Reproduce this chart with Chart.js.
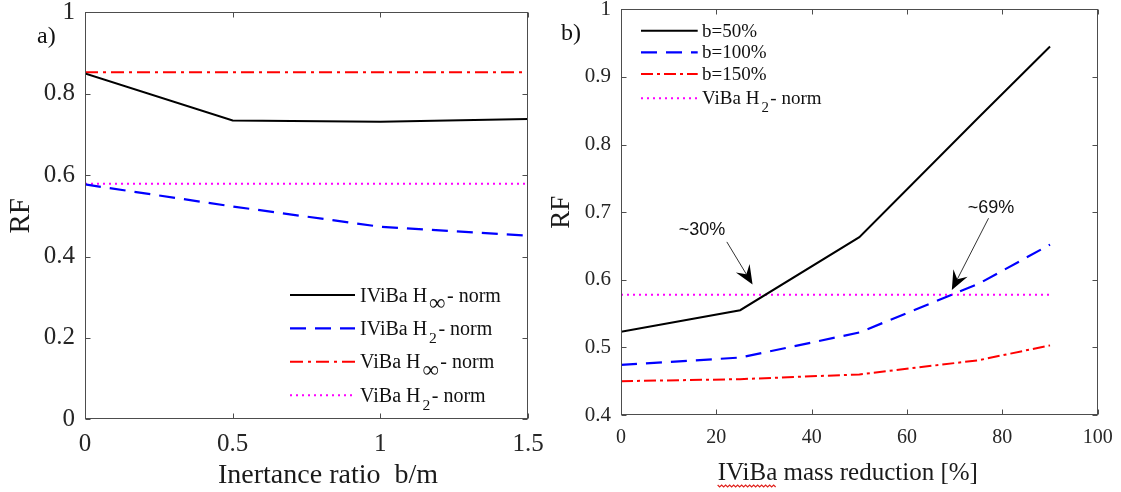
<!DOCTYPE html>
<html>
<head>
<meta charset="utf-8">
<script src="https://cdn.jsdelivr.net/npm/chart.js@4.4.1/dist/chart.umd.min.js"></script>
<style>
  html, body { margin: 0; padding: 0; background: #fff; }
  #wrap { position: relative; width: 1121px; height: 492px; overflow: hidden; }
  .panel { position: absolute; top: 0; }
  #pa { left: 0; }
  #pb { left: 540px; }
</style>
</head>
<body>
<div id="wrap">
  <div class="panel" id="pa"><canvas id="chartA" width="545" height="492"></canvas></div>
  <div class="panel" id="pb"><canvas id="chartB" width="581" height="492"></canvas></div>
</div>
<script>
const serif = "'Liberation Serif', 'Times New Roman', serif";
const sans = "'Liberation Sans', Arial, sans-serif";

// panel a) - RF against inertance ratio
const ratioA = [0, 0.5, 1, 1.5];
const ivibaHinf = [0.850, 0.734, 0.731, 0.738];
const ivibaH2 = [0.577, 0.523, 0.473, 0.451];
const vibaHinf = [0.853, 0.853, 0.853, 0.853];
const vibaH2a = [0.579, 0.579, 0.579, 0.579];
const xTicksA = [0, 0.5, 1, 1.5];
const yTicksA = [0, 0.2, 0.4, 0.6, 0.8, 1];

// panel b) - RF against mass reduction
const massRed = [0, 25, 50, 75, 90];
const b50 = [0.523, 0.555, 0.663, 0.840, 0.945];
const b100 = [0.474, 0.485, 0.522, 0.594, 0.652];
const b150 = [0.450, 0.453, 0.460, 0.481, 0.503];
const vibaH2b = [0.578, 0.578, 0.578, 0.578, 0.578];
const xTicksB = [0, 20, 40, 60, 80, 100];
const yTicksB = [0.4, 0.5, 0.6, 0.7, 0.8, 0.9, 1];

const pts = (xs, ys) => xs.map((v, i) => ({x: v, y: ys[i]}));

function line(label, xs, ys, color, dash, w) {
  return { label, data: pts(xs, ys), borderColor: color, borderDash: dash,
    borderWidth: w, pointRadius: 0, tension: 0, fill: false };
}

// text with H_{2} style subscripts
function richText(ctx, str, x, y, size) {
  const parts = str.split(/_\{|\}/);
  let cx = x;
  parts.forEach((p, i) => {
    const sub = i % 2 === 1;
    const fs = sub ? (p === '∞' ? size * 1.15 : size * 0.78) : size;
    ctx.font = fs + 'px ' + serif;
    ctx.fillText(p, cx, sub ? y + size * 0.42 : y);
    cx += ctx.measureText(p).width + (sub ? 1.5 : 2);
  });
}

function arrow(ctx, x0, y0, x1, y1) {
  const ang = Math.atan2(y1 - y0, x1 - x0);
  const L = 19, W = 8, N = 12;
  ctx.beginPath();
  ctx.moveTo(x0, y0);
  ctx.lineTo(x1 - Math.cos(ang) * N, y1 - Math.sin(ang) * N);
  ctx.stroke();
  ctx.save();
  ctx.translate(x1, y1);
  ctx.rotate(ang);
  ctx.beginPath();
  ctx.moveTo(0, 0);
  ctx.lineTo(-L, -W);
  ctx.lineTo(-N, 0);
  ctx.lineTo(-L, W);
  ctx.closePath();
  ctx.fill();
  ctx.restore();
}

const extras = {
  id: 'extras',
  afterDraw(chart, args, o) {
    const {ctx, chartArea: a, scales: {x, y}} = chart;
    ctx.save();

    // box with inward ticks on all sides
    ctx.strokeStyle = '#4d4d4d';
    ctx.lineWidth = 1;
    ctx.setLineDash([]);
    const L = Math.round(a.left) + 0.5, R = Math.round(a.right) - 0.5;
    const T = Math.round(a.top) + 0.5, B = Math.round(a.bottom) - 0.5;
    ctx.strokeRect(L, T, R - L, B - T);
    ctx.beginPath();
    x.ticks.forEach(t => {
      const p = Math.round(x.getPixelForValue(t.value)) + 0.5;
      ctx.moveTo(p, B); ctx.lineTo(p, B - 5);
      ctx.moveTo(p, T); ctx.lineTo(p, T + 5);
    });
    y.ticks.forEach(t => {
      const p = Math.round(y.getPixelForValue(t.value)) + 0.5;
      ctx.moveTo(L, p); ctx.lineTo(L + 5, p);
      ctx.moveTo(R, p); ctx.lineTo(R - 5, p);
    });
    ctx.stroke();

    // legend
    const lg = o.legend;
    ctx.textBaseline = 'alphabetic';
    ctx.textAlign = 'left';
    chart.data.datasets.forEach((ds, i) => {
      const ly = lg.rows[i];
      ctx.strokeStyle = ds.borderColor;
      ctx.lineWidth = ds.borderWidth;
      ctx.setLineDash(ds.borderDash || []);
      ctx.beginPath();
      ctx.moveTo(lg.x1, ly);
      ctx.lineTo(lg.x2, ly);
      ctx.stroke();
      ctx.fillStyle = '#111';
      richText(ctx, ds.label, lg.tx, ly + lg.base, lg.size);
    });
    ctx.setLineDash([]);

    // panel letter
    ctx.fillStyle = '#111';
    ctx.font = o.panel.size + 'px ' + serif;
    ctx.fillText(o.panel.text, o.panel.x, o.panel.y);

    // x axis title
    const xt = o.xTitle;
    ctx.font = xt.size + 'px ' + serif;
    ctx.textAlign = 'center';
    const cx = (a.left + a.right) / 2 + xt.dx;
    ctx.fillStyle = '#1a1a1a';
    ctx.fillText(xt.text, cx, xt.y);
    if (xt.squiggle) {
      ctx.textAlign = 'left';
      const x0 = cx - ctx.measureText(xt.text).width / 2;
      const w = ctx.measureText(xt.squiggle).width;
      ctx.strokeStyle = '#e0201b';
      ctx.lineWidth = 1.2;
      ctx.beginPath();
      for (let k = 0; k <= w; k += 2) {
        const yy = xt.y + 5 + (k % 4 === 0 ? 0 : 2);
        if (k === 0) ctx.moveTo(x0 + k, yy); else ctx.lineTo(x0 + k, yy);
      }
      ctx.stroke();
    }

    // annotations
    (o.arrows || []).forEach(an => {
      ctx.strokeStyle = '#333';
      ctx.fillStyle = '#000';
      ctx.lineWidth = 1;
      arrow(ctx, x.getPixelForValue(an.from[0]), y.getPixelForValue(an.from[1]),
                 x.getPixelForValue(an.to[0]), y.getPixelForValue(an.to[1]));
      ctx.font = '18px ' + sans;
      ctx.textAlign = 'center';
      ctx.textBaseline = 'middle';
      ctx.fillStyle = '#111';
      ctx.fillText(an.text, x.getPixelForValue(an.at[0]), y.getPixelForValue(an.at[1]));
    });
    ctx.restore();
  }
};

function scales(o) {
  const fmt = v => String(+(+v).toFixed(2));
  return {
    x: {
      type: 'linear', min: o.xMin, max: o.xMax,
      afterBuildTicks: s => { s.ticks = o.xTicks.map(v => ({value: v})); },
      afterFit: s => { s.height = o.xh; s.paddingLeft = 0; s.paddingRight = 0; },
      grid: {display: false, drawTicks: false},
      border: {display: false},
      ticks: {padding: o.xpad, color: '#262626', maxRotation: 0, autoSkip: false,
        font: {family: serif, size: o.xSize}, callback: fmt}
    },
    y: {
      type: 'linear', min: o.yMin, max: o.yMax,
      afterBuildTicks: s => { s.ticks = o.yTicks.map(v => ({value: v})); },
      afterFit: s => { s.width = o.yw; s.paddingTop = 0; s.paddingBottom = 0; },
      grid: {display: false, drawTicks: false},
      border: {display: false},
      ticks: {padding: 10, color: '#262626', autoSkip: false,
        font: {family: serif, size: o.ySize}, callback: fmt},
      title: {display: true, text: 'RF', color: '#1a1a1a',
        font: {family: serif, size: o.titleSize}, padding: {top: o.titlePad, bottom: 0}}
    }
  };
}

new Chart(document.getElementById('chartA'), {
  type: 'line',
  data: {
    datasets: [
      line('IViBa H_{∞}- norm', ratioA, ivibaHinf, '#000000', [], 2),
      line('IViBa H_{2}- norm', ratioA, ivibaH2, '#0000ff', [16, 9], 2.2),
      line('ViBa H_{∞}- norm', ratioA, vibaHinf, '#ff0000', [13, 5, 3, 5], 2),
      line('ViBa H_{2}- norm', ratioA, vibaH2a, '#ff00ff', [2, 4], 2)
    ]
  },
  options: {
    responsive: false, animation: false,
    layout: {padding: {left: 0, top: 12.3, right: 17, bottom: 0}},
    scales: scales({xMin: 0, xMax: 1.5, xTicks: xTicksA, yMin: 0, yMax: 1, yTicks: yTicksA,
      xh: 72.7, yw: 85, xpad: 10, xSize: 25, ySize: 25, titleSize: 29, titlePad: 3.6}),
    plugins: {
      legend: {display: false}, tooltip: {enabled: false},
      extras: {
        legend: {rows: [295, 328.3, 361.7, 395.3], x1: 290, x2: 355, tx: 360, base: 6.5, size: 20},
        panel: {text: 'a)', x: 37, y: 42.5, size: 24},
        xTitle: {text: 'Inertance ratio  b/m', dx: 21.5, y: 483, size: 28}
      }
    }
  },
  plugins: [extras]
});

new Chart(document.getElementById('chartB'), {
  type: 'line',
  data: {
    datasets: [
      line('b=50%', massRed, b50, '#000000', [], 2),
      line('b=100%', massRed, b100, '#0000ff', [16, 9], 2.2),
      line('b=150%', massRed, b150, '#ff0000', [12, 4, 3, 4], 2),
      line('ViBa H_{2}- norm', massRed, vibaH2b, '#ff00ff', [2, 4], 2)
    ]
  },
  options: {
    responsive: false, animation: false,
    layout: {padding: {left: 0, top: 9.3, right: 23.3, bottom: 0}},
    scales: scales({xMin: 0, xMax: 100, xTicks: xTicksB, yMin: 0.4, yMax: 1, yTicks: yTicksB,
      xh: 77, yw: 81, xpad: 11, xSize: 20, ySize: 21, titleSize: 27, titlePad: 6}),
    plugins: {
      legend: {display: false}, tooltip: {enabled: false},
      extras: {
        legend: {rows: [30.7, 52.3, 74, 98.3], x1: 101, x2: 157.7, tx: 162, base: 6, size: 19},
        panel: {text: 'b)', x: 21, y: 40, size: 24},
        xTitle: {text: 'IViBa mass reduction [%]', dx: -11.6, y: 480, size: 25, squiggle: 'IViBa'},
        arrows: [
          {text: '~30%', at: [17.0, 0.673], from: [22.2, 0.656], to: [27.6, 0.593]},
          {text: '~69%', at: [77.6, 0.706], from: [77.1, 0.691], to: [69.4, 0.585]}
        ]
      }
    }
  },
  plugins: [extras]
});
</script>
</body>
</html>
